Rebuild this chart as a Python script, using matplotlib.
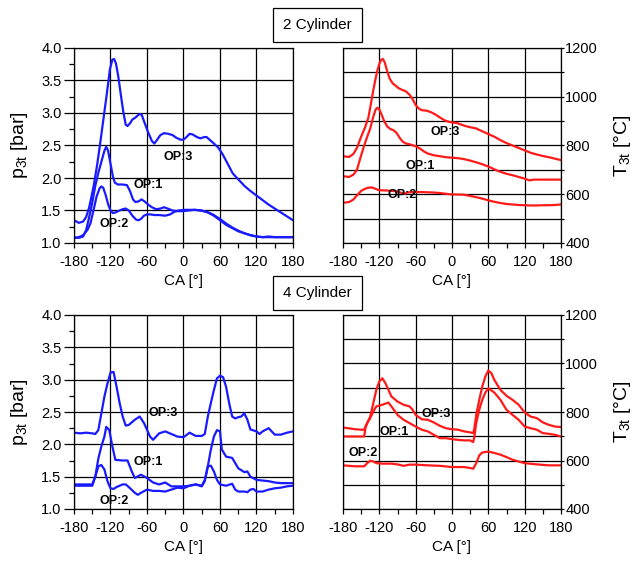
import matplotlib
matplotlib.use("Agg")
import matplotlib.pyplot as plt
from matplotlib.ticker import MultipleLocator

plt.rcParams['font.family'] = ['Liberation Sans', 'DejaVu Sans']
plt.rcParams['mathtext.fontset'] = 'custom'
plt.rcParams['mathtext.rm'] = 'Liberation Sans'
plt.rcParams['axes.unicode_minus'] = False

# ---- 2 cylinder, pressure p3t [bar] ----
ca_p2_op3 = [-180, -172, -165, -160, -155, -148, -142, -137, -131, -126, -121, -117, -114, -111, -107, -103,
             -99, -95, -92, -88, -84, -79, -73, -69, -64, -58, -52, -48, -44, -38, -32, -25, -18, -12, -5,
             0, 5, 10, 15, 22, 28, 34, 38, 44, 50, 57, 64, 72, 81, 90, 100, 110, 120, 130, 140, 150, 160,
             170, 180]
p2_op3 = [1.35, 1.31, 1.33, 1.40, 1.55, 1.86, 2.20, 2.53, 2.95, 3.30, 3.67, 3.82, 3.83, 3.76, 3.55, 3.28,
          3.02, 2.82, 2.80, 2.84, 2.90, 2.93, 2.98, 2.98, 2.85, 2.70, 2.57, 2.53, 2.58, 2.66, 2.69, 2.68,
          2.66, 2.62, 2.59, 2.59, 2.63, 2.68, 2.67, 2.63, 2.61, 2.63, 2.63, 2.58, 2.53, 2.47, 2.37, 2.23,
          2.07, 1.98, 1.88, 1.80, 1.73, 1.66, 1.59, 1.53, 1.47, 1.41, 1.35]

ca_p2_op1 = [-180, -172, -165, -160, -155, -150, -145, -140, -135, -130, -127, -124, -120, -116, -113, -108,
             -100, -93, -88, -83, -79, -74, -69, -64, -58, -52, -45, -38, -32, -26, -18, -10, 0, 8, 18, 28,
             38, 48, 60, 70, 80, 90, 100, 110, 120, 130, 140, 150, 160, 170, 180]
p2_op1 = [1.08, 1.08, 1.10, 1.20, 1.40, 1.62, 1.88, 2.08, 2.25, 2.42, 2.48, 2.42, 2.22, 2.02, 1.93, 1.90,
          1.90, 1.89, 1.80, 1.67, 1.63, 1.64, 1.67, 1.64, 1.59, 1.55, 1.52, 1.53, 1.55, 1.53, 1.50, 1.49,
          1.49, 1.50, 1.51, 1.50, 1.48, 1.44, 1.37, 1.30, 1.24, 1.19, 1.15, 1.12, 1.10, 1.09, 1.10, 1.09,
          1.09, 1.09, 1.09]

ca_p2_op2 = [-180, -172, -165, -158, -153, -148, -143, -138, -135, -132, -128, -124, -120, -116, -112, -105,
             -100, -95, -90, -84, -78, -74, -70, -65, -60, -54, -48, -40, -30, -22, -15, -8, 0, 10, 20, 30,
             40, 50, 60, 70, 80, 90, 100, 110, 120, 130, 140, 150, 160, 170, 180]
p2_op2 = [1.08, 1.09, 1.12, 1.20, 1.30, 1.50, 1.71, 1.84, 1.87, 1.85, 1.74, 1.60, 1.50, 1.46, 1.47, 1.50,
          1.52, 1.53, 1.50, 1.42, 1.36, 1.35, 1.37, 1.42, 1.44, 1.44, 1.43, 1.43, 1.42, 1.44, 1.48, 1.50,
          1.51, 1.51, 1.51, 1.50, 1.47, 1.42, 1.35, 1.28, 1.23, 1.18, 1.15, 1.12, 1.10, 1.09, 1.09, 1.09,
          1.09, 1.09, 1.09]

# ---- 2 cylinder, temperature T3t [degC] ----
ca_t2_op3 = [-180, -170, -163, -157, -150, -143, -138, -134, -129, -124, -120, -117, -114, -111, -107, -103,
             -98, -93, -88, -82, -76, -70, -65, -60, -55, -50, -42, -34, -28, -20, -12, -5, 0, 8, 15, 22,
             30, 40, 50, 60, 70, 80, 90, 100, 110, 120, 130, 140, 150, 160, 170, 180]
t2_op3 = [756, 753, 765, 790, 836, 878, 915, 970, 1040, 1100, 1135, 1152, 1155, 1140, 1105, 1075,
          1055, 1045, 1035, 1028, 1022, 1008, 990, 966, 952, 945, 943, 936, 928, 915, 903, 897, 895, 892,
          886, 880, 875, 870, 858, 847, 836, 822, 810, 800, 790, 780, 770, 763, 757, 752, 746, 740]

ca_t2_op1 = [-180, -170, -163, -157, -150, -145, -140, -135, -130, -126, -123, -120, -116, -112, -107, -102,
             -96, -91, -86, -81, -76, -70, -64, -58, -52, -46, -40, -30, -20, -10, 0, 10, 20, 30, 40, 50,
             60, 70, 80, 90, 100, 110, 120, 128, 135, 145, 160, 170, 180]
t2_op1 = [674, 671, 680, 700, 760, 800, 836, 870, 918, 948, 955, 948, 925, 900, 878, 868, 862, 850, 830,
          815, 808, 805, 800, 795, 786, 775, 767, 760, 756, 752, 750, 748, 744, 738, 731, 723, 714, 702,
          692, 684, 678, 671, 664, 657, 660, 660, 660, 660, 660]

ca_t2_op2 = [-180, -170, -163, -157, -150, -144, -138, -133, -128, -122, -115, -105, -95, -88, -82, -78,
             -74, -66, -58, -50, -40, -30, -20, -10, 0, 10, 20, 30, 40, 50, 60, 70, 80, 90, 100, 110, 120,
             130, 140, 150, 160, 170, 180]
t2_op2 = [565, 568, 578, 595, 614, 622, 627, 628, 624, 618, 616, 615, 613, 610, 604, 602, 607, 609, 609,
          609, 608, 607, 605, 602, 599, 599, 598, 593, 588, 582, 575, 569, 564, 560, 558, 556, 555, 554,
          554, 555, 555, 556, 558]

# ---- 4 cylinder, pressure p3t [bar] ----
ca_p4_op3 = [-180, -170, -160, -150, -145, -140, -135, -130, -125, -120, -115, -110, -105, -100, -95, -90,
             -80, -72, -65, -55, -50, -40, -30, -20, -10, 0, 10, 20, 30, 35, 40, 45, 50, 55, 60, 65, 70, 75,
             80, 85, 90, 95, 100, 105, 110, 120, 125, 130, 140, 150, 160, 170, 180]
p4_op3 = [2.18, 2.17, 2.18, 2.17, 2.16, 2.22, 2.48, 2.74, 2.94, 3.11, 3.12, 2.89, 2.64, 2.43, 2.29, 2.30,
          2.38, 2.43, 2.33, 2.12, 2.07, 2.17, 2.20, 2.16, 2.12, 2.11, 2.18, 2.13, 2.13, 2.16, 2.43, 2.64,
          2.84, 3.02, 3.06, 3.04, 2.89, 2.64, 2.43, 2.40, 2.42, 2.43, 2.48, 2.38, 2.23, 2.20, 2.16, 2.20,
          2.25, 2.15, 2.15, 2.18, 2.20]

ca_p4_op1 = [-180, -170, -160, -150, -145, -140, -135, -130, -127, -122, -117, -112, -100, -92, -85, -80,
             -70, -60, -50, -40, -30, -20, -10, 0, 10, 20, 30, 35, 40, 45, 50, 55, 60, 63, 70, 80, 85, 90,
             100, 105, 110, 120, 130, 140, 150, 160, 180]
p4_op1 = [1.38, 1.38, 1.38, 1.38, 1.50, 1.78, 1.97, 2.12, 2.27, 2.22, 1.97, 1.76, 1.75, 1.75, 1.58, 1.48,
          1.53, 1.48, 1.41, 1.38, 1.41, 1.35, 1.35, 1.35, 1.36, 1.38, 1.35, 1.43, 1.66, 1.92, 2.12, 2.22,
          2.20, 1.92, 1.81, 1.79, 1.71, 1.63, 1.57, 1.58, 1.50, 1.45, 1.44, 1.43, 1.41, 1.40, 1.40]

ca_p4_op2 = [-180, -160, -150, -145, -140, -135, -130, -125, -120, -115, -110, -100, -95, -90, -80, -75,
             -70, -60, -50, -40, -30, -20, -10, 0, 10, 20, 30, 35, 40, 45, 50, 55, 60, 70, 80, 85, 90, 100,
             105, 110, 115, 120, 130, 140, 150, 160, 170, 180]
p4_op2 = [1.36, 1.36, 1.36, 1.50, 1.66, 1.68, 1.61, 1.43, 1.32, 1.31, 1.34, 1.38, 1.38, 1.34, 1.25, 1.22,
          1.25, 1.30, 1.28, 1.28, 1.27, 1.30, 1.33, 1.32, 1.36, 1.38, 1.36, 1.45, 1.66, 1.67, 1.58, 1.45,
          1.38, 1.36, 1.39, 1.30, 1.27, 1.27, 1.26, 1.30, 1.31, 1.27, 1.27, 1.30, 1.32, 1.33, 1.35, 1.36]

# ---- 4 cylinder, temperature T3t [degC] ----
ca_t4_op3 = [-180, -160, -150, -145, -143, -135, -130, -125, -120, -115, -110, -100, -90, -80, -70, -65,
             -60, -50, -40, -30, -20, -10, 0, 10, 20, 30, 35, 37, 40, 45, 50, 55, 60, 65, 70, 80, 90, 100,
             110, 120, 130, 140, 150, 160, 170, 180]
t4_op3 = [736, 729, 727, 727, 740, 781, 836, 891, 926, 939, 919, 864, 843, 830, 823, 809, 788, 770, 768,
          757, 743, 733, 729, 727, 720, 716, 713, 733, 788, 850, 905, 946, 971, 960, 932, 891, 867, 850,
          830, 798, 781, 775, 757, 747, 740, 738]

ca_t4_op1 = [-180, -160, -150, -145, -143, -140, -135, -130, -125, -115, -105, -100, -90, -80, -70, -60,
             -50, -40, -30, -20, -10, 0, 10, 20, 30, 35, 37, 40, 45, 50, 55, 60, 70, 80, 90, 100, 110, 120,
             130, 140, 150, 160, 170, 180]
t4_op1 = [699, 699, 699, 699, 733, 754, 775, 802, 823, 830, 839, 823, 788, 768, 754, 740, 727, 720, 706,
          692, 692, 688, 685, 683, 683, 676, 699, 754, 809, 850, 880, 898, 880, 850, 809, 788, 768, 740,
          733, 727, 713, 710, 706, 699]

ca_t4_op2 = [-180, -160, -145, -140, -135, -130, -125, -115, -100, -90, -80, -70, -60, -40, -20, 0, 20, 30,
             35, 40, 45, 50, 60, 70, 80, 90, 100, 110, 120, 140, 160, 180]
t4_op2 = [580, 576, 576, 589, 599, 596, 589, 587, 587, 584, 578, 583, 583, 580, 578, 573, 573, 569, 566,
          589, 621, 633, 637, 631, 624, 614, 603, 596, 589, 584, 580, 580]

# label positions (x, y) per panel
lab_p2 = {'OP:3': (-9, 2.33), 'OP:1': (-58, 1.89), 'OP:2': (-114, 1.29)}
lab_t2 = {'OP:3': (-11, 856), 'OP:1': (-52, 717), 'OP:2': (-83, 598)}
lab_p4 = {'OP:3': (-33, 2.48), 'OP:1': (-58, 1.72), 'OP:2': (-114, 1.12)}
lab_t4 = {'OP:3': (-26, 792), 'OP:1': (-95, 716), 'OP:2': (-147, 631)}

W, H = 636, 561
fig = plt.figure(figsize=(W / 100, H / 100), dpi=100)


def px_axes(left, top, right, bottom):
    return fig.add_axes([left / W, 1 - bottom / H, (right - left) / W, (bottom - top) / H])


def style_common(ax):
    ax.set_xlim(-180, 180)
    ax.xaxis.set_major_locator(MultipleLocator(60))
    ax.xaxis.set_minor_locator(MultipleLocator(30))
    ax.xaxis.grid(True, which='major', color='black', lw=0.9)
    ax.tick_params(axis='both', which='both', direction='out', labelsize=10.5, width=0.9)
    ax.tick_params(axis='x', which='both', length=3.6)
    ax.tick_params(axis='x', which='major', pad=5)
    for s in ax.spines.values():
        s.set_linewidth(0.9)
    ax.set_xlabel('CA [°]', fontsize=11)
    ax.xaxis.set_label_coords(0.5, -0.195)
    ax.xaxis.label.set_va('center')


def style_p(ax):
    style_common(ax)
    ax.set_ylim(1.0, 4.0)
    ax.yaxis.set_major_locator(MultipleLocator(0.5))
    ax.yaxis.set_minor_locator(MultipleLocator(0.25))
    ax.yaxis.set_major_formatter('{x:.1f}')
    ax.yaxis.grid(True, which='major', color='black', lw=0.9)
    ax.tick_params(axis='y', which='major', length=7, pad=2)
    ax.tick_params(axis='y', which='minor', length=3.6)
    ax.set_ylabel('p$_\\mathregular{3t}$ [bar]', fontsize=14)
    ax.yaxis.set_label_coords(-0.247, 0.5)
    ax.yaxis.label.set_va('center')


def style_t(ax):
    style_common(ax)
    ax.set_ylim(400, 1200)
    ax.yaxis.tick_right()
    ax.yaxis.set_label_position('right')
    ax.yaxis.set_major_locator(MultipleLocator(200))
    ax.yaxis.set_minor_locator(MultipleLocator(100))
    ax.yaxis.grid(True, which='both', color='black', lw=0.9)
    ax.tick_params(axis='y', which='major', length=2, pad=1)
    ax.tick_params(axis='y', which='minor', length=2)
    ax.set_ylabel('T$_\\mathregular{3t}$ [°C]', fontsize=14, rotation=90)
    ax.yaxis.set_label_coords(1.28, 0.5)
    ax.yaxis.label.set_va('center')


def add_labels(ax, labels):
    for txt, (x, y) in labels.items():
        ax.text(x, y, txt, ha='center', va='center', fontsize=9, fontweight='bold', zorder=5)


blue = '#1a1aff'
red = '#ff1a1a'
lw = 1.6

ax1 = px_axes(74, 48, 293, 243)
style_p(ax1)
ax1.plot(ca_p2_op3, p2_op3, color=blue, lw=lw)
ax1.plot(ca_p2_op1, p2_op1, color=blue, lw=lw)
ax1.plot(ca_p2_op2, p2_op2, color=blue, lw=lw)
add_labels(ax1, lab_p2)

ax2 = px_axes(343, 48, 561, 243)
style_t(ax2)
ax2.plot(ca_t2_op3, t2_op3, color=red, lw=lw)
ax2.plot(ca_t2_op1, t2_op1, color=red, lw=lw)
ax2.plot(ca_t2_op2, t2_op2, color=red, lw=lw)
add_labels(ax2, lab_t2)

ax3 = px_axes(74, 315, 293, 509)
style_p(ax3)
ax3.plot(ca_p4_op3, p4_op3, color=blue, lw=lw)
ax3.plot(ca_p4_op1, p4_op1, color=blue, lw=lw)
ax3.plot(ca_p4_op2, p4_op2, color=blue, lw=lw)
add_labels(ax3, lab_p4)

ax4 = px_axes(343, 315, 561, 509)
style_t(ax4)
ax4.plot(ca_t4_op3, t4_op3, color=red, lw=lw)
ax4.plot(ca_t4_op1, t4_op1, color=red, lw=lw)
ax4.plot(ca_t4_op2, t4_op2, color=red, lw=lw)
add_labels(ax4, lab_t4)

box = dict(boxstyle='square,pad=0.65', fc='white', ec='black', lw=0.9)
fig.text(317.5 / W, 1 - 25 / H, '2 Cylinder', ha='center', va='center', fontsize=11, bbox=box)
fig.text(317.5 / W, 1 - 293 / H, '4 Cylinder', ha='center', va='center', fontsize=11, bbox=box)

fig.savefig('out.png', dpi=100)
